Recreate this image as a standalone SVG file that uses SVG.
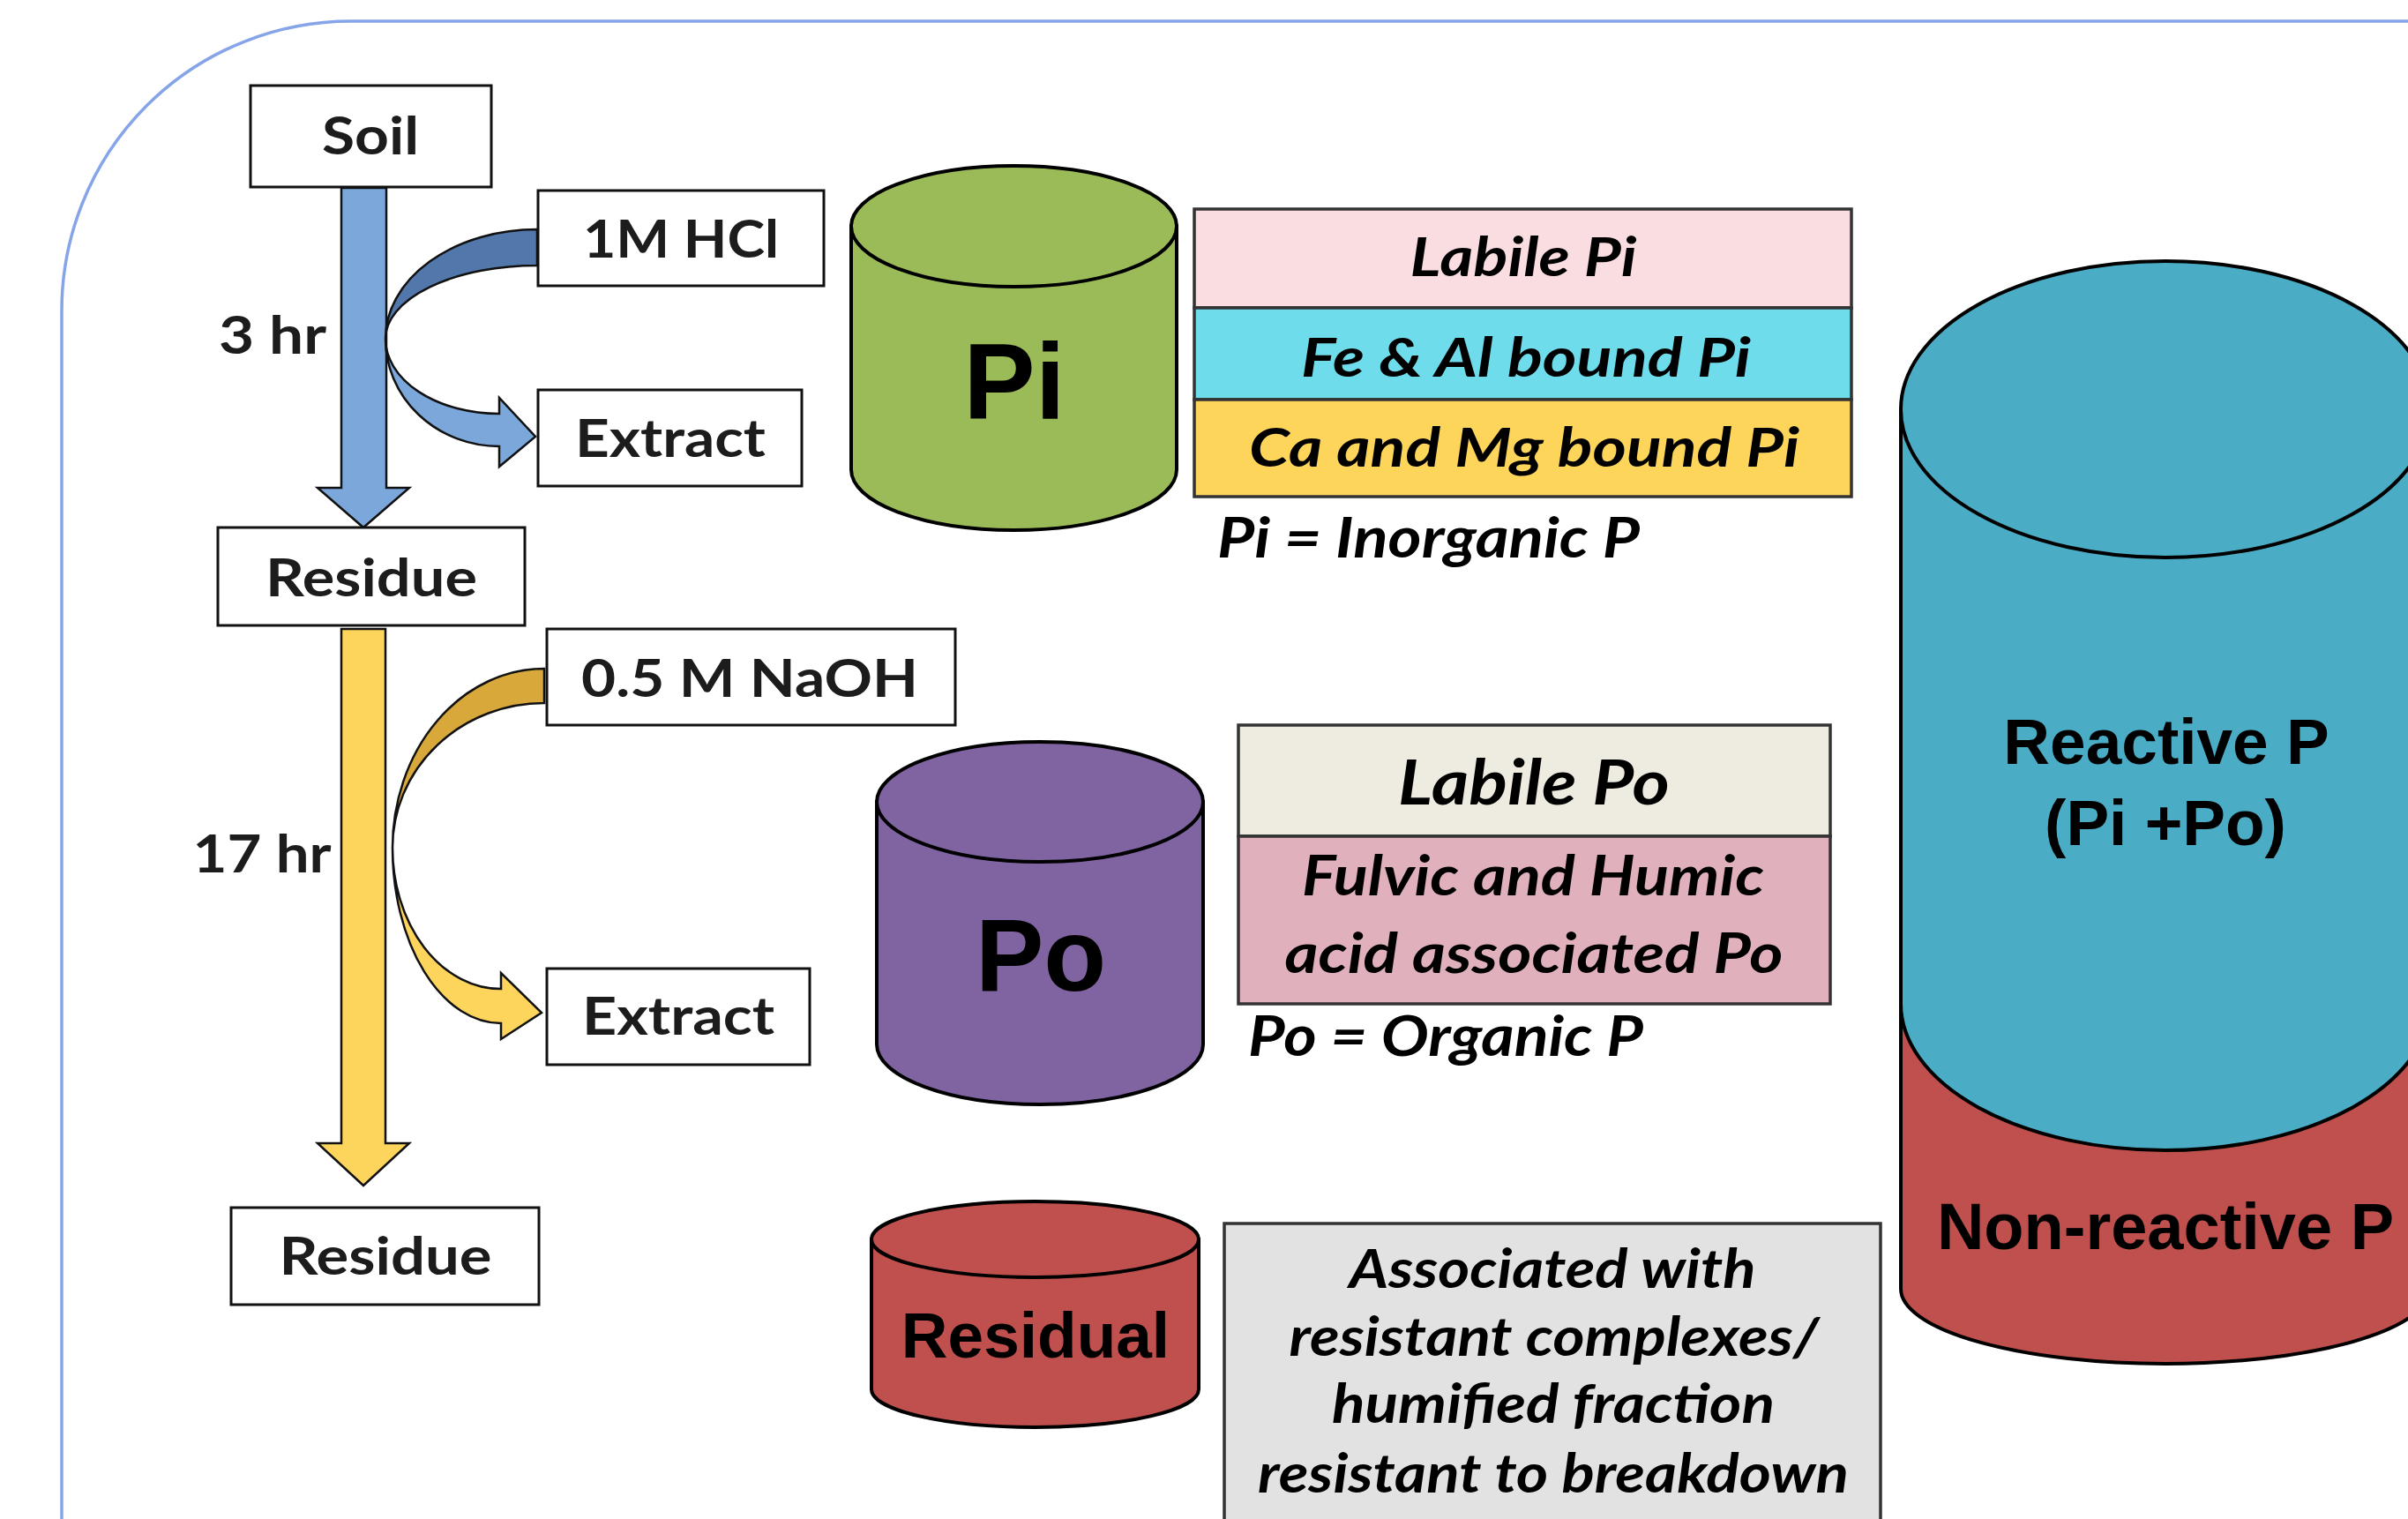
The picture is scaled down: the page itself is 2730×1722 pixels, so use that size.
<svg xmlns="http://www.w3.org/2000/svg" width="2730" height="1722" viewBox="0 0 2730 1722">
<style>
.box{fill:#ffffff;stroke:#111111;stroke-width:3}
.lbl{font-family:Lato,"Open Sans","Liberation Sans",sans-serif;font-weight:700;font-size:60px;fill:#1c1c1c}
.it{font-family:Lato,"Open Sans","Liberation Sans",sans-serif;font-weight:700;font-style:italic;fill:#000000}
.ar{font-family:"Liberation Sans",Arial,sans-serif;font-weight:700;fill:#000000}
.cyl{stroke:#000000;stroke-width:4}
.tbl{stroke:#333333;stroke-width:3.5}
.arrow{stroke:#111111;stroke-width:2.5;stroke-linejoin:miter}
</style>
<rect x="0" y="0" width="2730" height="1722" fill="#ffffff"/>
<g id="frame">
<path d="M70,1740 L70,352 A328,328 0 0 1 398,24 L2740,24" fill="none" stroke="#86a5e9" stroke-width="3.5"/>
</g>
<g id="connectors">
<path class="arrow" d="M387,213 L438,213 L438,553 L464,553 L412,598 L360,553 L387,553 Z" fill="#7ba7db"/>
<path class="arrow" d="M609,260 A172,124 0 0 0 437,384 A172,83 0 0 1 609,301 Z" fill="#5277aa"/>
<path class="arrow" d="M437,384 A129,122 0 0 0 566,506 L566,529 L607,495 L566,451 L566,469 A129,85 0 0 1 437,384 Z" fill="#7ba7db"/>
<path class="arrow" d="M387,713 L437,713 L437,1296 L464,1296 L412,1344 L360,1296 L387,1296 Z" fill="#fdd55c"/>
<path class="arrow" d="M617,758 A172,203 0 0 0 445,961 A172,164 0 0 1 617,797 Z" fill="#d8a83b"/>
<path class="arrow" d="M445,961 A123,199 0 0 0 568,1160 L568,1178 L614,1148 L568,1103 L568,1121 A123,160 0 0 1 445,961 Z" fill="#fdd55c"/>
</g>
<g id="soil">
<rect class="box" x="284" y="97" width="273" height="115"/>
<text class="lbl" x="365" y="175" textLength="110" lengthAdjust="spacingAndGlyphs">Soil</text>
</g>
<g id="hcl">
<rect class="box" x="610" y="216" width="324" height="108"/>
<text class="lbl" x="661" y="292" textLength="222" lengthAdjust="spacingAndGlyphs">1M HCl</text>
</g>
<g id="extract1">
<rect class="box" x="610" y="442" width="299" height="109"/>
<text class="lbl" x="652" y="518" textLength="216" lengthAdjust="spacingAndGlyphs">Extract</text>
</g>
<g id="time1">
<text class="lbl" x="248" y="401" textLength="122" lengthAdjust="spacingAndGlyphs">3 hr</text>
</g>
<g id="residue1">
<rect class="box" x="247" y="598" width="348" height="111"/>
<text class="lbl" x="301" y="676" textLength="240" lengthAdjust="spacingAndGlyphs">Residue</text>
</g>
<g id="naoh">
<rect class="box" x="620" y="713" width="463" height="109"/>
<text class="lbl" x="659" y="790" textLength="382" lengthAdjust="spacingAndGlyphs">0.5 M NaOH</text>
</g>
<g id="time2">
<text class="lbl" x="218.5" y="989" textLength="157" lengthAdjust="spacingAndGlyphs">17 hr</text>
</g>
<g id="extract2">
<rect class="box" x="620" y="1098" width="298" height="109"/>
<text class="lbl" x="660" y="1173" textLength="218" lengthAdjust="spacingAndGlyphs">Extract</text>
</g>
<g id="residue2">
<rect class="box" x="262" y="1369" width="349" height="110"/>
<text class="lbl" x="316.5" y="1445" textLength="241" lengthAdjust="spacingAndGlyphs">Residue</text>
</g>
<g id="pi-cylinder">
<path class="cyl" d="M965,256.5 L965,532.5 A184.5,68.5 0 0 0 1334,532.5 L1334,256.5 Z" fill="#9bbb59"/>
<ellipse class="cyl" cx="1149.5" cy="256.5" rx="184.5" ry="68.5" fill="#9bbb59"/>
<text class="ar" x="1150" y="475" font-size="122" text-anchor="middle">Pi</text>
</g>
<g id="pi-table">
<rect class="tbl" x="1354" y="237" width="745" height="112" fill="#f9dde1"/>
<rect class="tbl" x="1354" y="349" width="745" height="104" fill="#6fdcec"/>
<rect class="tbl" x="1354" y="453" width="745" height="110" fill="#fdd55b"/>
<text class="it" x="1598.5" y="313" font-size="62" textLength="257" lengthAdjust="spacingAndGlyphs">Labile Pi</text>
<text class="it" x="1475" y="427" font-size="62" textLength="510" lengthAdjust="spacingAndGlyphs">Fe &amp; Al bound Pi</text>
<text class="it" x="1416" y="529" font-size="62" textLength="624" lengthAdjust="spacingAndGlyphs">Ca and Mg bound Pi</text>
<text class="it" x="1380" y="632" font-size="64" textLength="479" lengthAdjust="spacingAndGlyphs">Pi = Inorganic P</text>
</g>
<g id="po-cylinder">
<path class="cyl" d="M994,909 L994,1184 A185,68 0 0 0 1364,1184 L1364,909 Z" fill="#8064a2"/>
<ellipse class="cyl" cx="1179" cy="909" rx="185" ry="68" fill="#8064a2"/>
<text class="ar" x="1180" y="1123" font-size="116" text-anchor="middle">Po</text>
</g>
<g id="po-table">
<rect class="tbl" x="1404" y="822" width="671" height="126" fill="#eeebe0"/>
<rect class="tbl" x="1404" y="948" width="671" height="190" fill="#e0b1bc"/>
<text class="it" x="1585" y="912" font-size="70" textLength="308" lengthAdjust="spacingAndGlyphs">Labile Po</text>
<text class="it" x="1476" y="1015" font-size="63" textLength="524" lengthAdjust="spacingAndGlyphs">Fulvic and Humic</text>
<text class="it" x="1456.5" y="1103" font-size="63" textLength="565" lengthAdjust="spacingAndGlyphs">acid associated Po</text>
<text class="it" x="1415" y="1197" font-size="64" textLength="448" lengthAdjust="spacingAndGlyphs">Po = Organic P</text>
</g>
<g id="residual-cylinder">
<path class="cyl" d="M988,1405 L988,1575 A185.5,43 0 0 0 1359,1575 L1359,1405 Z" fill="#c0504d"/>
<ellipse class="cyl" cx="1173.5" cy="1405" rx="185.5" ry="43" fill="#c0504d"/>
<text class="ar" x="1174" y="1539" font-size="73" text-anchor="middle">Residual</text>
</g>
<g id="residual-note">
<rect class="tbl" x="1388" y="1387" width="744" height="360" fill="#e2e2e2"/>
<text class="it" x="1529.5" y="1460" font-size="62" textLength="461" lengthAdjust="spacingAndGlyphs">Associated with</text>
<text class="it" x="1461.5" y="1537" font-size="62" textLength="601" lengthAdjust="spacingAndGlyphs">resistant complexes/</text>
<text class="it" x="1510" y="1613" font-size="62" textLength="502" lengthAdjust="spacingAndGlyphs">humified fraction</text>
<text class="it" x="1426" y="1692" font-size="62" textLength="670" lengthAdjust="spacingAndGlyphs">resistant to breakdown</text>
</g>
<g id="total-cylinder">
<path class="cyl" d="M2155,464 L2155,1461 A300,85 0 0 0 2755,1461 L2755,464 Z" fill="#c0504d"/>
<path d="M2155,464 L2155,1138 A300,166 0 0 0 2755,1138 L2755,464 Z" fill="#4bacc6"/>
<path d="M2155,1138 A300,166 0 0 0 2755,1138" fill="none" stroke="#000000" stroke-width="4"/>
<line x1="2155" y1="464" x2="2155" y2="1461" stroke="#000000" stroke-width="4"/>
<ellipse class="cyl" cx="2455" cy="464" rx="300" ry="168" fill="#4bacc6"/>
<text class="ar" x="2456" y="866" font-size="73" text-anchor="middle">Reactive P</text>
<text class="ar" x="2455" y="958" font-size="73" text-anchor="middle">(Pi +Po)</text>
<text class="ar" x="2455" y="1416" font-size="74" text-anchor="middle">Non-reactive P</text>
</g>
</svg>
